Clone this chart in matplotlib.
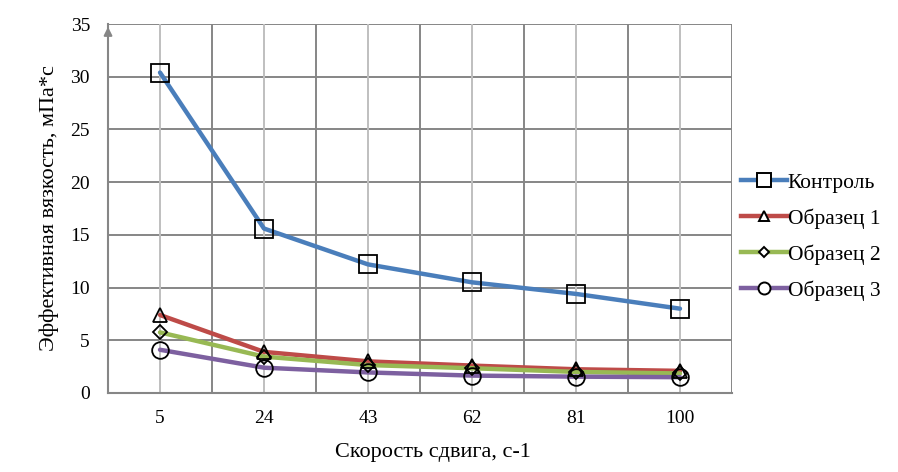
import numpy as np
import matplotlib
matplotlib.use("Agg")
import matplotlib.pyplot as plt
from matplotlib.lines import Line2D

plt.rcParams["font.family"] = ["Liberation Serif", "DejaVu Serif"]

shear = ["5", "24", "43", "62", "81", "100"]
control = [30.4, 15.6, 12.2, 10.5, 9.4, 8.0]
sample1 = [7.4, 3.9, 3.0, 2.6, 2.25, 2.1]
sample2 = [5.75, 3.45, 2.65, 2.35, 2.0, 1.85]
sample3 = [4.1, 2.4, 1.95, 1.65, 1.55, 1.5]
names = ["Контроль", "Образец 1", "Образец 2", "Образец 3"]

colors = ["#4a7ebb", "#be4b48", "#98b954", "#7d60a0"]
markers = ["s", "^", "D", "o"]
msizes = [13.5, 10.5, 7, 12]

fig = plt.figure(figsize=(8.98, 4.72), dpi=100)
ax = fig.add_axes([0.1203, 0.1674, 0.6948, 0.7816])

x = np.arange(len(shear))
grid_dark = "#868686"
grid_light = "#bfbfbf"

for yv in range(5, 40, 5):
    ax.axhline(yv, color=grid_dark, lw=1.4, zorder=1)
for b in np.arange(0.5, len(shear), 1.0):
    ax.axvline(b, color=grid_dark, lw=1.4, zorder=1)
for c in x:
    ax.axvline(c, color=grid_light, lw=1.4, zorder=1)

handles = []
for vals, col, mk, ms, nm in zip([control, sample1, sample2, sample3],
                                 colors, markers, msizes, names):
    ax.plot(x, vals, color=col, lw=3.2, zorder=3,
            solid_capstyle="round", solid_joinstyle="round")
    ax.plot(x, vals, linestyle="none", marker=mk, ms=ms, mfc="none",
            mec="black", mew=1.3, zorder=4)
    handles.append(Line2D([], [], color=col, lw=3.2, marker=mk,
                          ms=ms * 0.72, mfc="white", mec="black", mew=1.4))

ax.set_xlim(-0.5, len(shear) - 0.5)
ax.set_ylim(0, 35)
ax.set_xticks(x)
ax.set_xticklabels(shear)
ax.set_yticks(range(0, 40, 5))
ax.tick_params(length=0, labelsize=14)
ax.tick_params(axis="x", pad=12)
ax.tick_params(axis="y", pad=13)

for s in ["top", "right"]:
    ax.spines[s].set_visible(False)
for s in ["left", "bottom"]:
    ax.spines[s].set_color(grid_dark)
    ax.spines[s].set_linewidth(1.5)

ax.annotate("", xy=(0, 1.0), xytext=(0, 0.96), xycoords="axes fraction",
            arrowprops=dict(arrowstyle="-|>", color=grid_dark, lw=1.5,
                            mutation_scale=12))

ax.set_xlabel("Скорость сдвига, с-1", fontsize=16)
ax.xaxis.set_label_coords(0.52, -0.135)
ax.set_ylabel("Эффективная вязкость, мПа*с", fontsize=16)
ax.yaxis.set_label_coords(-0.078, 0.5)

fig.legend(handles, names, loc="center left", bbox_to_anchor=(0.816, 0.499),
           frameon=False, fontsize=15.5, handlelength=2.1, handletextpad=0.05,
           labelspacing=0.72, borderaxespad=0)

fig.savefig("out.png", dpi=100)
